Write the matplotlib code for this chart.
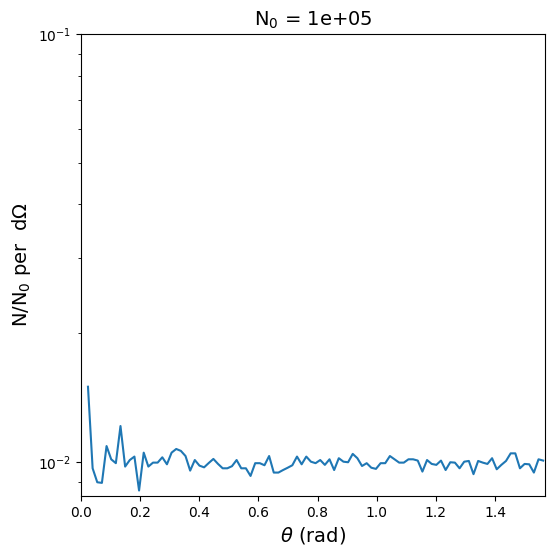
import numpy as np
import matplotlib
matplotlib.use("Agg")
import matplotlib.pyplot as plt


N0 = 1e5
n_bins = 100

# N/N0 per solid angle (bins 1..99, first bin not shown)
ratio = [
    0.01501, 0.00968, 0.00898, 0.00895, 0.01091, 0.01016, 0.00995, 0.01215, 0.00977, 0.01012,
    0.01031, 0.00859, 0.01053, 0.00977, 0.00998, 0.00998, 0.01027, 0.00989, 0.01053, 0.01074,
    0.01063, 0.01034, 0.00956, 0.01012, 0.00982, 0.00973, 0.00996, 0.01018, 0.00991, 0.00968,
    0.00968, 0.00979, 0.01012, 0.00968, 0.00968, 0.00929, 0.00995, 0.00995, 0.00984, 0.01034,
    0.00946, 0.00946, 0.00959, 0.00971, 0.00984, 0.01031, 0.00989, 0.01031, 0.01003, 0.00995,
    0.01012, 0.00986, 0.01016, 0.00959, 0.01022, 0.01003, 0.01000, 0.01046, 0.01022, 0.00980,
    0.00995, 0.00971, 0.00965, 0.00995, 0.00995, 0.01034, 0.01016, 0.00998, 0.00998, 0.01016,
    0.01016, 0.01009, 0.00951, 0.01012, 0.00991, 0.00986, 0.01009, 0.00959, 0.01000, 0.00998,
    0.00968, 0.01003, 0.01007, 0.00938, 0.01007, 0.00998, 0.00991, 0.01022, 0.00963, 0.00986,
    0.01007, 0.01049, 0.01049, 0.00968, 0.00991, 0.00989, 0.00946, 0.01016, 0.01009,
]

edges = np.linspace(0, np.pi / 2, n_bins + 1)
centers = 0.5 * (edges[:-1] + edges[1:])
theta = centers[1:]

fig = plt.figure(figsize=(5.56, 5.56), dpi=100)
ax = fig.add_axes([0.1457, 0.1079, 0.8354, 0.8309])
ax.plot(theta, ratio, color="#1f77b4", linewidth=1.5)
ax.set_yscale("log")
ax.set_xlim(0, np.pi / 2)
ax.set_ylim(0.00834, 0.1)
ax.set_xlabel(r"$\theta$ (rad)", fontsize=14)
ax.set_ylabel(r"N/N$_0$ per  d$\Omega$", fontsize=14)
ax.set_title(f"N$_0$ = {N0:.0e}", fontsize=14)

fig.savefig("out.png", dpi=100)
